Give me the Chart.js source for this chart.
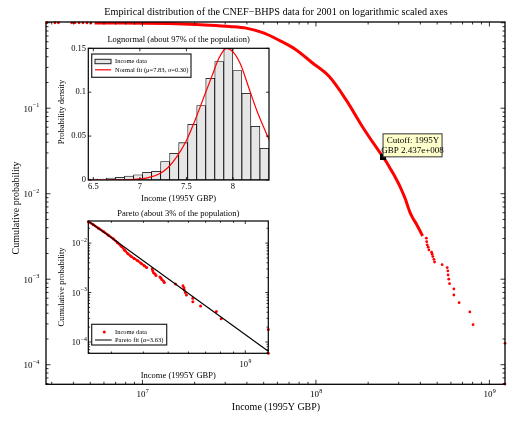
<!DOCTYPE html>
<html>
<head>
<meta charset="utf-8">
<script src="https://cdn.jsdelivr.net/npm/chart.js@4.4.0/dist/chart.umd.min.js"></script>
<style>
  body { margin: 0; background: #fff; }
  #wrap { position: relative; width: 510px; height: 421px; }
  #wrap canvas { position: absolute; left: 0; top: 0; }
</style>
</head>
<body>
<div id="wrap">
  <canvas id="main" width="510" height="421"></canvas>
  <canvas id="lognormal" width="510" height="421"></canvas>
  <canvas id="pareto" width="510" height="421"></canvas>
</div>
<script>
// ---- data ----
// sparse dots at the very top left of the main curve
const topDotIncome = [2.81e6, 3.13e6, 3.28e6, 3.91e6, 4.08e6, 4.31e6, 4.54e6, 4.79e6, 5.05e6];
const topDotCcdf   = [1.0, 0.999, 0.999, 0.998, 0.998, 0.997, 0.997, 0.996, 0.996];

// dense part of the empirical CCDF below the cutoff
const bodyIncome = [5.3e6, 7.0e6, 1.0e7, 1.4e7, 1.71e7, 2.44e7, 3.18e7, 3.96e7, 4.94e7, 6.15e7,
                    7.67e7, 9.56e7, 1.19e8, 1.49e8, 1.85e8, 2.21e8];
const bodyCcdf   = [0.996, 0.993, 0.988, 0.978, 0.968, 0.937, 0.905, 0.865, 0.765, 0.622,
                    0.484, 0.338, 0.236, 0.126, 0.0612, 0.0357];

// dense part above the cutoff
const tailIncome = [2.437e8, 2.55e8, 2.67e8, 2.80e8, 2.92e8, 3.05e8, 3.17e8, 3.28e8, 3.38e8,
                    3.48e8, 3.58e8, 3.68e8, 3.80e8, 3.92e8, 4.03e8, 4.12e8];
const tailCcdf   = [0.0270, 0.0235, 0.0200, 0.0170, 0.0145, 0.0122, 0.0102, 0.0086, 0.0072,
                    0.0061, 0.0054, 0.0049, 0.0044, 0.0039, 0.0035, 0.0032];

// single points in the far tail
const farIncome = [4.33e8, 4.35e8, 4.38e8, 4.44e8, 4.48e8, 4.64e8, 4.68e8, 4.72e8, 4.79e8, 4.83e8,
                   5.34e8, 5.71e8, 5.76e8, 5.78e8, 5.83e8, 5.89e8, 6.24e8, 6.24e8, 6.69e8, 7.71e8,
                   8.05e8, 1.23e9, 1.23e9];
const farCcdf   = [3.02e-3, 2.75e-3, 2.52e-3, 2.37e-3, 2.20e-3, 2.07e-3, 1.96e-3, 1.84e-3, 1.71e-3, 1.59e-3,
                   1.48e-3, 1.37e-3, 1.25e-3, 1.12e-3, 1.00e-3, 8.88e-4, 7.69e-4, 6.54e-4, 5.32e-4, 4.14e-4,
                   2.94e-4, 1.78e-4, 5.94e-5];

const cutoffIncome = 2.437e8;
const cutoffCcdf = 0.0270;

// lognormal inset: histogram of log10(income)
const binCenters = [6.495, 6.592, 6.689, 6.786, 6.883, 6.980, 7.077, 7.174, 7.271, 7.368,
                    7.465, 7.562, 7.659, 7.756, 7.853, 7.950, 8.047, 8.144, 8.241, 8.338];
const binShare   = [0.0010, 0.0010, 0.0023, 0.0030, 0.0045, 0.0060, 0.0087, 0.0099, 0.0209, 0.0304,
                    0.0425, 0.0634, 0.0847, 0.1158, 0.1348, 0.1500, 0.1246, 0.0987, 0.0611, 0.0361];
const fitLogX = [6.446, 6.80, 7.00, 7.10, 7.20, 7.30, 7.40, 7.50, 7.60, 7.70, 7.78, 7.85,
                 7.93, 8.00, 8.08, 8.17, 8.26, 8.33, 8.387];
const fitDensity = [0.0000, 0.0001, 0.0012, 0.0030, 0.0065, 0.0140, 0.0270, 0.0450, 0.0700, 0.0980,
                    0.1200, 0.1390, 0.1500, 0.1460, 0.1320, 0.1050, 0.0780, 0.0600, 0.0460];

// pareto inset fit line
const paretoIncome = [2.437e8, 1.23e9];
const paretoCcdf = [0.0281, 6.5e-5];

const xTicksLog = [7, 8, 9];
const yTicksLog = [-1, -2, -3, -4];
const histXTicks = [6.5, 7, 7.5, 8];
const histYTicks = [0, 0.05, 0.1, 0.15];
const histYLabels = ['0', '0.05', '0.1', '0.15'];

// ---- helpers ----
const SERIF = '"Liberation Serif", "Times New Roman", serif';
const pts = (xs, ys) => xs.map((x, i) => ({ x: x, y: ys[i] }));

function logTickValues(min, max) {
  const out = [];
  for (let e = Math.floor(Math.log10(min)); e <= Math.ceil(Math.log10(max)); e++) {
    for (let m = 1; m < 10; m++) {
      const v = m * Math.pow(10, e);
      if (v >= min * 0.999 && v <= max * 1.001) out.push({ v: v, major: m === 1 });
    }
  }
  return out;
}

function drawFrameTicks(chart, xt, yt, majLen, minLen, lw) {
  const { ctx, chartArea: a } = chart;
  const xs = chart.scales.x, ys = chart.scales.y;
  ctx.save();
  ctx.strokeStyle = '#000';
  ctx.lineWidth = 0.8;
  ctx.beginPath();
  xt.forEach(t => {
    const px = xs.getPixelForValue(t.v);
    const l = t.major ? majLen : minLen;
    ctx.moveTo(px, a.bottom); ctx.lineTo(px, a.bottom - l);
    ctx.moveTo(px, a.top); ctx.lineTo(px, a.top + l);
  });
  yt.forEach(t => {
    const py = ys.getPixelForValue(t.v);
    const l = t.major ? majLen : minLen;
    ctx.moveTo(a.left, py); ctx.lineTo(a.left + l, py);
    ctx.moveTo(a.right, py); ctx.lineTo(a.right - l, py);
  });
  ctx.stroke();
  ctx.lineWidth = lw;
  ctx.strokeRect(a.left, a.top, a.right - a.left, a.bottom - a.top);
  ctx.restore();
}

function drawPow(ctx, x, y, exp, size, align) {
  ctx.font = size + 'px ' + SERIF;
  const wb = ctx.measureText('10').width;
  const es = size * 0.68;
  ctx.font = es + 'px ' + SERIF;
  const we = ctx.measureText(exp).width;
  const left = align === 'center' ? x - (wb + we) / 2 : x - wb - we;
  ctx.fillStyle = '#000';
  ctx.textAlign = 'left';
  ctx.textBaseline = 'middle';
  ctx.font = size + 'px ' + SERIF;
  ctx.fillText('10', left, y);
  ctx.font = es + 'px ' + SERIF;
  ctx.fillText(exp, left + wb + 0.3, y - size * 0.42);
}

function text(ctx, s, x, y, size, rot) {
  ctx.save();
  ctx.fillStyle = '#000';
  ctx.font = size + 'px ' + SERIF;
  ctx.textAlign = 'center';
  ctx.textBaseline = 'middle';
  ctx.translate(x, y);
  if (rot) ctx.rotate(-Math.PI / 2);
  ctx.fillText(s, 0, 0);
  ctx.restore();
}

const expText = e => (e < 0 ? '\u2212' + (-e) : String(e));

// ---- main chart ----
const mainDecor = {
  id: 'mainDecor',
  afterDatasetsDraw(chart) {
    const { ctx } = chart;
    const xs = chart.scales.x, ys = chart.scales.y;
    drawFrameTicks(chart, logTickValues(xs.min, xs.max), logTickValues(ys.min, ys.max), 4.5, 2.5, 1.3);
    xTicksLog.forEach(e => drawPow(ctx, xs.getPixelForValue(Math.pow(10, e)), 395, expText(e), 9, 'center'));
    yTicksLog.forEach(e => drawPow(ctx, 39, ys.getPixelForValue(Math.pow(10, e)) + 1, expText(e), 9, 'right'));
    text(ctx, 'Empirical distribution of the CNEF\u2212BHPS data for 2001 on logarithmic scaled axes', 276, 12.5, 10.2);
    text(ctx, 'Income (1995Y GBP)', 276, 407.5, 10);
    text(ctx, 'Cumulative probability', 16, 208, 10, true);

    // cutoff label box
    const cx = xs.getPixelForValue(cutoffIncome), cy = ys.getPixelForValue(cutoffCcdf);
    ctx.save();
    ctx.fillStyle = '#ffffcc';
    ctx.strokeStyle = '#333';
    ctx.lineWidth = 1;
    ctx.fillRect(cx, cy - 23, 59, 23);
    ctx.strokeRect(cx, cy - 23, 59, 23);
    ctx.restore();
    text(ctx, 'Cutoff: 1995Y', cx + 30, cy - 16, 9);
    text(ctx, 'GBP 2.437e+008', cx + 29.5, cy - 6, 9);
  }
};

new Chart(document.getElementById('main'), {
  type: 'scatter',
  data: {
    datasets: [
      { data: [{ x: cutoffIncome, y: cutoffCcdf }], pointStyle: 'rect', pointRadius: 4.3,
        backgroundColor: '#000', borderWidth: 0 },
      { data: pts(bodyIncome.concat(tailIncome), bodyCcdf.concat(tailCcdf)), showLine: true,
        borderColor: '#ff0000', borderWidth: 3, pointRadius: 0, cubicInterpolationMode: 'monotone' },
      { data: pts(topDotIncome.concat(farIncome), topDotCcdf.concat(farCcdf)), pointRadius: 1.4,
        backgroundColor: '#ff0000', borderWidth: 0, clip: 4 }
    ]
  },
  options: {
    responsive: false,
    animation: false,
    devicePixelRatio: 1,
    events: [],
    layout: { padding: { left: 46, top: 22, right: 5, bottom: 36.7 } },
    scales: {
      x: { type: 'logarithmic', min: 2.78e6, max: 1.23e9, display: false },
      y: { type: 'logarithmic', min: 5.9e-5, max: 1.02, display: false }
    },
    plugins: { legend: { display: false }, tooltip: { enabled: false } }
  },
  plugins: [mainDecor]
});

// ---- lognormal inset ----
const histDecor = {
  id: 'histDecor',
  beforeDatasetsDraw(chart) {
    const { ctx, chartArea: a } = chart;
    ctx.save();
    ctx.fillStyle = '#fff';
    ctx.fillRect(a.left, a.top, a.right - a.left, a.bottom - a.top);
    ctx.restore();
  },
  afterDatasetsDraw(chart) {
    const { ctx } = chart;
    const xs = chart.scales.x, ys = chart.scales.y;
    drawFrameTicks(chart, histXTicks.map(v => ({ v: v, major: true })),
      histYTicks.map(v => ({ v: v, major: true })), 3, 2, 1.2);
    ctx.save();
    ctx.fillStyle = '#000';
    ctx.font = '8.5px ' + SERIF;
    ctx.textBaseline = 'middle';
    ctx.textAlign = 'right';
    histYTicks.forEach((v, i) => ctx.fillText(histYLabels[i], 86, ys.getPixelForValue(v)));
    ctx.textAlign = 'center';
    histXTicks.forEach(v => ctx.fillText(String(v), xs.getPixelForValue(v), 187));
    ctx.restore();
    text(ctx, 'Lognormal (about 97% of the population)', 178.6, 39.7, 8.5);
    text(ctx, 'Income (1995Y GBP)', 178.6, 198.3, 8.5);
    text(ctx, 'Probability density', 61.7, 112, 8.5, true);

    // legend
    ctx.save();
    ctx.fillStyle = '#fff';
    ctx.strokeStyle = '#222';
    ctx.lineWidth = 1.2;
    ctx.fillRect(91.7, 54, 99.3, 23.3);
    ctx.strokeRect(91.7, 54, 99.3, 23.3);
    ctx.fillStyle = '#e6e6e6';
    ctx.fillRect(95, 59.3, 16, 4.4);
    ctx.lineWidth = 1;
    ctx.strokeRect(95, 59.3, 16, 4.4);
    ctx.strokeStyle = '#ff0000';
    ctx.lineWidth = 1.2;
    ctx.beginPath(); ctx.moveTo(95, 69.8); ctx.lineTo(111, 69.8); ctx.stroke();
    ctx.fillStyle = '#000';
    ctx.font = '6.5px ' + SERIF;
    ctx.textAlign = 'left';
    ctx.textBaseline = 'middle';
    ctx.fillText('Income data', 115, 61.6);
    ctx.fillText('Normal fit (\u03bc=7.83, \u03c3=0.30)', 115, 69.8);
    ctx.restore();
  }
};

new Chart(document.getElementById('lognormal'), {
  type: 'bar',
  data: {
    datasets: [
      { type: 'line', data: pts(fitLogX, fitDensity), borderColor: '#ff0000', borderWidth: 1.2,
        pointRadius: 0, cubicInterpolationMode: 'monotone' },
      { type: 'bar', data: pts(binCenters, binShare), backgroundColor: '#e6e6e6',
        borderColor: '#000', borderWidth: 0.8, borderSkipped: false,
        barPercentage: 1, categoryPercentage: 1 }
    ]
  },
  options: {
    responsive: false,
    animation: false,
    devicePixelRatio: 1,
    events: [],
    layout: { padding: { left: 88.3, top: 48.3, right: 241, bottom: 241 } },
    scales: {
      x: { type: 'linear', min: 6.446, max: 8.387, offset: false, display: false },
      y: { min: 0, max: 0.15, display: false }
    },
    plugins: { legend: { display: false }, tooltip: { enabled: false } }
  },
  plugins: [histDecor]
});

// ---- pareto inset ----
const paretoDecor = {
  id: 'paretoDecor',
  beforeDatasetsDraw(chart) {
    const { ctx, chartArea: a } = chart;
    ctx.save();
    ctx.fillStyle = '#fff';
    ctx.fillRect(a.left, a.top, a.right - a.left, a.bottom - a.top);
    ctx.restore();
  },
  afterDatasetsDraw(chart) {
    const { ctx } = chart;
    const xs = chart.scales.x, ys = chart.scales.y;
    drawFrameTicks(chart, logTickValues(xs.min, xs.max), logTickValues(ys.min, ys.max), 3, 1.8, 1.2);
    [-2, -3, -4].forEach(e => drawPow(ctx, 86.5, ys.getPixelForValue(Math.pow(10, e)) + 1, expText(e), 8.5, 'right'));
    drawPow(ctx, xs.getPixelForValue(1e9), 365, '9', 8.5, 'center');
    text(ctx, 'Pareto (about 3% of the population)', 178.3, 213.3, 8.5);
    text(ctx, 'Income (1995Y GBP)', 178.3, 375.3, 8.5);
    text(ctx, 'Cumulative probability', 61.7, 287, 8.5, true);

    // legend
    ctx.save();
    ctx.fillStyle = '#fff';
    ctx.strokeStyle = '#222';
    ctx.lineWidth = 1.2;
    ctx.fillRect(91.7, 324.3, 75, 20.7);
    ctx.strokeRect(91.7, 324.3, 75, 20.7);
    ctx.fillStyle = '#ff0000';
    ctx.beginPath(); ctx.arc(104.3, 332, 1.5, 0, Math.PI * 2); ctx.fill();
    ctx.strokeStyle = '#000';
    ctx.lineWidth = 1;
    ctx.beginPath(); ctx.moveTo(95, 340); ctx.lineTo(111.7, 340); ctx.stroke();
    ctx.fillStyle = '#000';
    ctx.font = '6.5px ' + SERIF;
    ctx.textAlign = 'left';
    ctx.textBaseline = 'middle';
    ctx.fillText('Income data', 115, 332);
    ctx.fillText('Pareto fit (\u03b1=3.63)', 115, 340);
    ctx.restore();
  }
};

new Chart(document.getElementById('pareto'), {
  type: 'scatter',
  data: {
    datasets: [
      { data: pts(paretoIncome, paretoCcdf), showLine: true, borderColor: '#000', borderWidth: 1.1,
        pointRadius: 0 },
      { data: pts(tailIncome, tailCcdf), showLine: true, borderColor: '#ff0000', borderWidth: 2.2,
        pointRadius: 1.5, backgroundColor: '#ff0000', pointBorderWidth: 0, clip: 3 },
      { data: pts(farIncome, farCcdf), pointRadius: 1.5, backgroundColor: '#ff0000', borderWidth: 0, clip: 3 }
    ]
  },
  options: {
    responsive: false,
    animation: false,
    devicePixelRatio: 1,
    events: [],
    layout: { padding: { left: 88.3, top: 221, right: 241.7, bottom: 67.7 } },
    scales: {
      x: { type: 'logarithmic', min: 2.437e8, max: 1.23e9, display: false },
      y: { type: 'logarithmic', min: 5.9e-5, max: 0.028, display: false }
    },
    plugins: { legend: { display: false }, tooltip: { enabled: false } }
  },
  plugins: [paretoDecor]
});
</script>
</body>
</html>
